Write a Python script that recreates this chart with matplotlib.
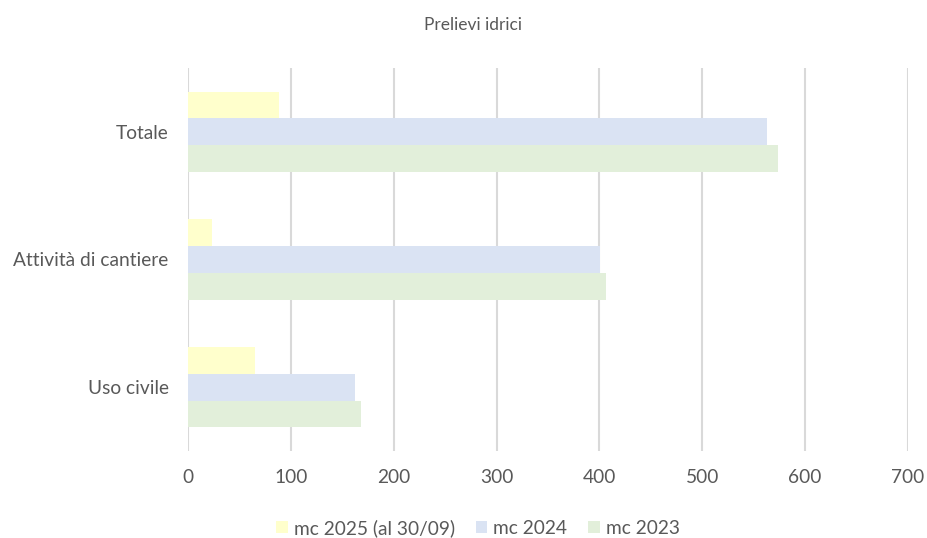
import matplotlib.pyplot as plt
import numpy as np

plt.rcParams['font.family'] = ['Lato', 'DejaVu Sans']

# data
categories = ['Uso civile', 'Attività di cantiere', 'Totale']
series_names = ['mc 2025 (al 30/09)', 'mc 2024', 'mc 2023']
mc_2025 = [65, 23, 88]
mc_2024 = [162, 401, 563]
mc_2023 = [168, 406, 574]
xticks = [0, 100, 200, 300, 400, 500, 600, 700]

colors = ['#FFFFCC', '#DAE3F3', '#E2EFDA']
text_col = '#595959'

fig = plt.figure(figsize=(9.27, 5.38), dpi=100)
ax = fig.add_axes([188 / 927, 87 / 538, 720 / 927, 383 / 538])

y = np.arange(len(categories))
h = 0.21
offsets = [h, 0, -h]
for vals, off, col, name in zip([mc_2025, mc_2024, mc_2023], offsets, colors, series_names):
    ax.barh(y + off, vals, height=h, color=col, label=name, zorder=3)

ax.set_xlim(0, 700)
ax.set_ylim(-0.5, 2.5)
ax.set_xticks(xticks)
ax.set_yticks(y)
ax.set_yticklabels(categories)
ax.grid(axis='x', color='#D9D9D9', linewidth=1.5, zorder=0)
ax.tick_params(length=0, labelsize=13.8, colors=text_col)
ax.tick_params(axis='x', pad=13)
ax.tick_params(axis='y', pad=14)
for s in ax.spines.values():
    s.set_visible(False)

fig.text(473 / 927, 1 - 25 / 538, 'Prelievi idrici', ha='center', va='center',
         fontsize=12.5, color=text_col)

leg = fig.legend(loc='center', bbox_to_anchor=(478 / 927, 1 - 528 / 538), ncol=3,
                 frameon=False, fontsize=13.8, labelcolor=text_col,
                 handlelength=0.6, handleheight=0.6, handletextpad=0.3,
                 columnspacing=1.1)

fig.savefig('out.png', dpi=100)
